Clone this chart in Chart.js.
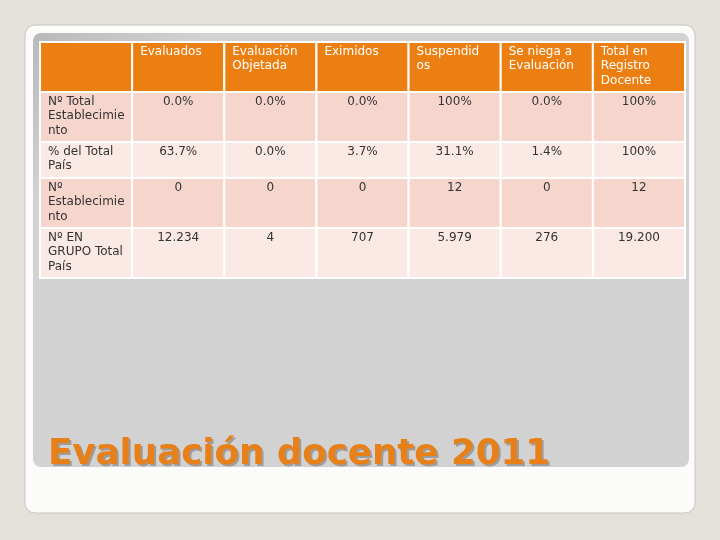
<!DOCTYPE html>
<html>
  <head>
    <title>Evaluación docente 2011</title>
    <script src="https://cdn.jsdelivr.net/npm/chart.js@4/dist/chart.umd.min.js"></script>
    <style>
      body { margin: 0; background: #e4e1da; }
      #wrap { width: 720px; height: 540px; }
    </style>
  </head>
  <body>
    <div id="wrap"><canvas id="chart"></canvas></div>
    <script type="text/javascript">
      const columns = ['', 'Evaluados', 'Evaluación\nObjetada', 'Eximidos', 'Suspendid\nos', 'Se niega a\nEvaluación', 'Total en\nRegistro\nDocente'];
      const rowLabels = ['Nº Total\nEstablecimie\nnto', '% del Total\nPaís', 'Nº\nEstablecimie\nnto', 'Nº EN\nGRUPO Total\nPaís'];
      const row1 = ['0.0%', '0.0%', '0.0%', '100%', '0.0%', '100%'];
      const row2 = ['63.7%', '0.0%', '3.7%', '31.1%', '1.4%', '100%'];
      const row3 = ['0', '0', '0', '12', '0', '12'];
      const row4 = ['12.234', '4', '707', '5.979', '276', '19.200'];
      const rowLines = [3, 3, 2, 3, 3]; // header + 4 rows, in text lines
      const title = 'Evaluación docente 2011';

      const rows = [row1, row2, row3, row4];
      // row edges in "line" units on the y scale
      const edges = [0];
      rowLines.forEach((n) => edges.push(edges[edges.length - 1] + n + 0.55));

      function roundRect(ctx, x, y, w, h, r) {
        ctx.beginPath();
        ctx.moveTo(x + r, y);
        ctx.arcTo(x + w, y, x + w, y + h, r);
        ctx.arcTo(x + w, y + h, x, y + h, r);
        ctx.arcTo(x, y + h, x, y, r);
        ctx.arcTo(x, y, x + w, y, r);
        ctx.closePath();
      }

      const slide = {
        id: 'slide',
        beforeDraw(chart) {
          const ctx = chart.ctx;
          ctx.save();
          ctx.fillStyle = '#e4e1da';
          ctx.fillRect(0, 0, 720, 540);
          roundRect(ctx, 25, 25, 670, 488, 10);
          ctx.fillStyle = '#fbfbfa';
          ctx.fill();
          ctx.strokeStyle = '#c8c5be';
          ctx.lineWidth = 1;
          ctx.stroke();
          const g = ctx.createLinearGradient(33, 33, 120, 120);
          g.addColorStop(0, '#b9b9b9');
          g.addColorStop(1, '#d2d2d2');
          roundRect(ctx, 33, 33, 656, 434, 8);
          ctx.fillStyle = g;
          ctx.fill();
          ctx.restore();
        },
        afterDraw(chart) {
          const ctx = chart.ctx;
          const xs = chart.scales.x, ys = chart.scales.y;
          const colW = xs.width / columns.length;
          ctx.save();
          ctx.font = '12px "DejaVu Sans"';
          ctx.textBaseline = 'top';
          for (let r = 0; r < edges.length - 1; r++) {
            const y0 = ys.getPixelForValue(edges[r]);
            const y1 = ys.getPixelForValue(edges[r + 1]);
            for (let c = 0; c < columns.length; c++) {
              const xc = xs.getPixelForValue(c);
              const x0 = xc - colW / 2;
              ctx.fillStyle = r === 0 ? '#ec7f12' : (r % 2 === 1 ? '#f6d6cc' : '#fae9e4');
              ctx.fillRect(x0, y0, colW, y1 - y0);
              ctx.strokeStyle = '#ffffff';
              ctx.lineWidth = 2;
              ctx.strokeRect(x0, y0, colW, y1 - y0);
              let text, align;
              if (r === 0) { text = columns[c]; align = 'left'; ctx.fillStyle = '#ffffff'; }
              else if (c === 0) { text = rowLabels[r - 1]; align = 'left'; ctx.fillStyle = '#333333'; }
              else { text = rows[r - 1][c - 1]; align = 'center'; ctx.fillStyle = '#333333'; }
              ctx.textAlign = align;
              const tx = align === 'left' ? x0 + 8 : xc;
              text.split('\n').forEach((line, i) => ctx.fillText(line, tx, y0 + 4 + i * 14.3));
            }
          }
          // title, squeezed to the width it has on the slide
          ctx.font = 'bold 36px "DejaVu Sans"';
          ctx.textAlign = 'left';
          ctx.textBaseline = 'alphabetic';
          const sx = 502 / ctx.measureText(title).width;
          ctx.translate(48, 464);
          ctx.scale(sx, 1);
          ctx.fillStyle = 'rgba(0,0,0,0.25)';
          ctx.fillText(title, 2 / sx, 2);
          ctx.fillStyle = '#e8801a';
          ctx.fillText(title, 0, 0);
          ctx.restore();
        }
      };

      new Chart(document.getElementById('chart'), {
        type: 'bar',
        data: { labels: columns.map((c, i) => i), datasets: [{ data: [] }] },
        options: {
          responsive: true,
          maintainAspectRatio: false,
          animation: false,
          layout: { padding: { left: 40, right: 35, top: 42, bottom: 262 } },
          plugins: { legend: { display: false }, tooltip: { enabled: false } },
          scales: {
            x: { display: false },
            y: { display: false, reverse: true, min: 0, max: edges[edges.length - 1] }
          }
        },
        plugins: [slide]
      });
    </script>
  </body>
</html>
